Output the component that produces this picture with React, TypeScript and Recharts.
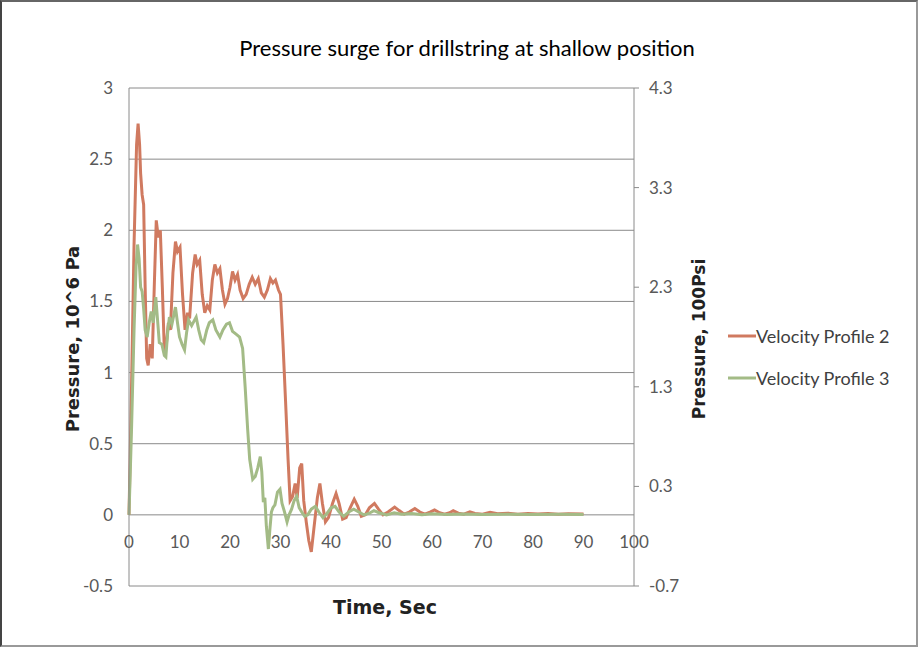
import { LineChart, Line, XAxis, YAxis, CartesianGrid, Legend } from "recharts";

// Velocity Profile 2 (time in sec, pressure in 10^6 Pa)
const time2 = [
  0, 0.5, 1.0, 1.5, 1.8, 2.1, 2.3, 2.6, 2.9, 3.2, 3.5, 3.8, 4.2, 4.6, 5.0, 5.4, 5.8, 6.2, 6.6, 7.0,
  7.4, 7.8, 8.2, 8.7, 9.2, 9.6, 10.1, 10.6, 11.1, 11.6, 12.0, 12.6, 13.1, 13.5, 14.0, 14.5, 15.0, 15.5, 16.0, 16.5,
  17.0, 17.5, 18.0, 18.5, 19.0, 19.5, 20.0, 20.5, 21.0, 21.5, 22.0, 22.6, 23.2, 23.8, 24.4, 25.0, 25.6, 26.2, 26.8, 27.4,
  28.0, 28.5, 29.0, 29.6, 30.0, 30.5, 31.0, 31.5, 31.9, 32.4, 32.9, 33.3, 33.8, 34.2, 34.6, 35.1, 35.6, 36.1, 36.6, 37.3,
  37.8, 38.3, 38.9, 39.5, 40.3, 41.0, 41.6, 42.3, 43.0, 43.8, 44.6, 45.3, 46.0, 46.8, 47.6, 48.6, 49.4, 50.3, 51.3, 52.6,
  53.5, 54.5, 55.5, 56.6, 57.6, 58.6, 59.6, 60.5, 61.5, 62.5, 63.5, 64.2, 65.2, 66.3, 67.5, 68.5, 70, 71.5, 73, 75,
  77, 79, 81, 83, 85, 87, 90,
];
const pressure2 = [
  0, 0.9, 1.9, 2.6, 2.75, 2.6, 2.4, 2.25, 2.18, 1.6, 1.1, 1.05, 1.2, 1.1, 1.6, 2.07, 1.95, 2.0, 1.6, 1.15,
  1.2, 1.35, 1.3, 1.7, 1.92, 1.85, 1.88, 1.55, 1.3, 1.42, 1.38, 1.7, 1.83, 1.76, 1.79, 1.55, 1.42, 1.47, 1.44, 1.65,
  1.76, 1.7, 1.73, 1.58, 1.48, 1.52, 1.6, 1.71, 1.65, 1.69, 1.58, 1.52, 1.55, 1.62, 1.67, 1.62, 1.66, 1.56, 1.53, 1.58,
  1.66, 1.63, 1.65, 1.58, 1.55, 1.2, 0.8, 0.39, 0.1, 0.13, 0.22, 0.12, 0.33, 0.36, 0.1, -0.05, -0.18, -0.26, -0.1, 0.12,
  0.22, 0.08, -0.05, -0.02, 0.08, 0.15, 0.08, -0.03, -0.02, 0.05, 0.11, 0.06, -0.01, 0.0, 0.05, 0.08, 0.04, 0.0, 0.02, 0.055,
  0.03, 0.005, 0.02, 0.045, 0.02, 0.005, 0.02, 0.035, 0.015, 0.005, 0.015, 0.03, 0.012, 0.005, 0.022, 0.01, 0.005, 0.018, 0.008, 0.012,
  0.005, 0.01, 0.006, 0.009, 0.005, 0.008, 0.006,
];

// Velocity Profile 3
const time3 = [
  0, 0.5, 1.0, 1.4, 1.7, 2.0, 2.3, 2.6, 2.9, 3.2, 3.6, 4.0, 4.4, 4.8, 5.3, 5.7, 6.0, 6.5, 7.0, 7.3,
  7.7, 8.0, 8.5, 9.2, 9.6, 10.0, 10.5, 11.0, 11.4, 11.8, 12.4, 13.3, 13.8, 14.3, 14.8, 15.4, 15.9, 16.6, 17.2, 18.0,
  18.6, 19.3, 19.9, 20.5, 21.2, 21.9, 22.5, 23.0, 23.5, 23.9, 24.5, 25.0, 25.5, 26.0, 26.3, 26.6, 26.9, 27.2, 27.6, 27.9,
  28.2, 28.5, 28.9, 29.4, 29.9, 30.3, 30.8, 31.3, 31.7, 32.2, 32.7, 33.2, 33.7, 34.2, 34.8, 35.4, 36.1, 36.9, 37.6, 38.4,
  39.2, 40.0, 40.8, 41.6, 42.5, 43.5, 44.5, 45.5, 46.5, 47.5, 48.5, 49.5, 51, 52.5, 54, 56, 58, 60, 63, 66,
  70, 75, 80, 85, 90,
];
const pressure3 = [
  0, 0.6, 1.3, 1.75, 1.9, 1.8, 1.6, 1.57, 1.45, 1.3, 1.25, 1.35, 1.43, 1.35, 1.53, 1.35, 1.21, 1.2, 1.12, 1.11,
  1.3, 1.39, 1.34, 1.46, 1.35, 1.25, 1.2, 1.16, 1.28, 1.37, 1.33, 1.39, 1.3, 1.23, 1.21, 1.3, 1.35, 1.37, 1.3, 1.25,
  1.3, 1.34, 1.35, 1.29, 1.27, 1.25, 1.17, 0.9, 0.6, 0.39, 0.25, 0.27, 0.33, 0.41, 0.3, 0.09, 0.12, -0.08, -0.24, -0.1,
  0.02, 0.05, 0.07, 0.16, 0.18, 0.08, 0.02, -0.05, 0.0, 0.04, 0.1, 0.13, 0.05, 0.02, -0.01, 0.0, 0.04, 0.06, 0.02, -0.02,
  0.01, 0.05, 0.06, 0.02, -0.01, 0.02, 0.04, 0.02, 0.0, 0.01, 0.03, 0.015, 0.0, 0.015, 0.005, 0.01, 0.0, 0.008, 0.003, 0.006,
  0.002, 0.005, 0.003, 0.004, 0.003,
];

const xTicks = [0, 10, 20, 30, 40, 50, 60, 70, 80, 90, 100];
const paTicks = [-0.5, 0, 0.5, 1, 1.5, 2, 2.5, 3];
const psiTicks = [-0.7, 0.3, 1.3, 2.3, 3.3, 4.3];

const profile2 = time2.map((t, i) => ({ t, p: pressure2[i] }));
const profile3 = time3.map((t, i) => ({ t, p: pressure3[i] }));

const tickFont = "Lato, 'DejaVu Sans Condensed', sans-serif";
const boldFont = "'DejaVu Sans', sans-serif";

// x labels sit just under the zero line, like Excel's crossing axis
const TimeTick = (props: any) => {
  const { x, y, payload } = props;
  return (
    <text x={x} y={y - 44} dy="0.355em" textAnchor="middle" fill="#595959" fontSize={17} fontFamily={tickFont}>
      {payload.value}
    </text>
  );
};

const renderLegend = (props: any) => {
  const items = (props.payload || []).filter((e: any) => e.type !== "none");
  return (
    <div style={{ fontFamily: tickFont, fontSize: 18, color: "#404040" }}>
      {items.map((e: any) => (
        <div key={e.value} style={{ display: "flex", alignItems: "center", height: 42 }}>
          <svg width={28} height={10}>
            <line x1={0} y1={5} x2={28} y2={5} stroke={e.color} strokeWidth={3} />
          </svg>
          <span>{e.value}</span>
        </div>
      ))}
    </div>
  );
};

export default function App() {
  return (
    <div
      style={{
        position: "absolute",
        left: 0,
        top: 0,
        width: 918,
        height: 647,
        background: "#fff",
        boxSizing: "border-box",
        borderTop: "2px solid #666",
        borderLeft: "2px solid #444",
        borderRight: "2px solid #999",
        borderBottom: "2px solid #999",
      }}
    >
      <div style={{ position: "absolute", left: -2, top: -2 }}>
        <LineChart width={918} height={647} margin={{ top: 88, right: 224, bottom: 31, left: 69 }}>
          <CartesianGrid yAxisId="left" vertical={false} stroke="#8a8a8a" />
          <XAxis
            dataKey="t"
            type="number"
            domain={[0, 100]}
            ticks={xTicks}
            height={30}
            axisLine={false}
            tickLine={false}
            tickSize={0}
            tickMargin={0}
            tick={<TimeTick />}
            interval={0}
          />
          <YAxis
            yAxisId="left"
            domain={[-0.5, 3]}
            ticks={paTicks}
            width={60}
            stroke="#8a8a8a"
            tickLine={false}
            tickMargin={10}
            tick={{ fill: "#595959", fontSize: 17, fontFamily: tickFont }}
            interval={0}
          />
          <YAxis
            yAxisId="right"
            orientation="right"
            domain={[-0.7, 4.3]}
            ticks={psiTicks}
            width={60}
            stroke="#8a8a8a"
            tickSize={5}
            tickMargin={10}
            tick={{ fill: "#595959", fontSize: 17, fontFamily: tickFont }}
            interval={0}
          />
          <Legend
            layout="vertical"
            align="center"
            verticalAlign="middle"
            content={renderLegend}
            wrapperStyle={{ position: "absolute", left: 728, top: 315, width: 180 }}
          />
          <Line
            yAxisId="left"
            data={profile2}
            dataKey="p"
            name="Velocity Profile 2"
            stroke="#d07a60"
            strokeWidth={3}
            dot={false}
            isAnimationActive={false}
          />
          <Line
            yAxisId="left"
            data={profile3}
            dataKey="p"
            name="Velocity Profile 3"
            stroke="#a3bb86"
            strokeWidth={3}
            dot={false}
            isAnimationActive={false}
          />
          <Line
            yAxisId="right"
            data={profile2}
            dataKey="p"
            name="psi"
            stroke="none"
            legendType="none"
            dot={false}
            activeDot={false}
            isAnimationActive={false}
          />
        </LineChart>
      </div>
      <div
        style={{
          position: "absolute",
          left: 0,
          width: 930,
          top: 32,
          textAlign: "center",
          fontFamily: tickFont,
          fontSize: 22,
          color: "#000",
        }}
      >
        Pressure surge for drillstring at shallow position
      </div>
      <div
        style={{
          position: "absolute",
          left: 383 - 150,
          width: 300,
          top: 594,
          textAlign: "center",
          fontFamily: boldFont,
          fontWeight: "bold",
          fontSize: 19,
          color: "#222",
        }}
      >
        Time, Sec
      </div>
      <div
        style={{
          position: "absolute",
          left: 71 - 150,
          top: 337 - 12,
          width: 300,
          height: 24,
          lineHeight: "24px",
          textAlign: "center",
          transform: "rotate(-90deg)",
          fontFamily: boldFont,
          fontWeight: "bold",
          fontSize: 18,
          color: "#222",
        }}
      >
        Pressure, 10^6 Pa
      </div>
      <div
        style={{
          position: "absolute",
          left: 697 - 150,
          top: 337 - 12,
          width: 300,
          height: 24,
          lineHeight: "24px",
          textAlign: "center",
          transform: "rotate(-90deg)",
          fontFamily: boldFont,
          fontWeight: "bold",
          fontSize: 17,
          color: "#222",
        }}
      >
        Pressure, 100Psi
      </div>
    </div>
  );
}
